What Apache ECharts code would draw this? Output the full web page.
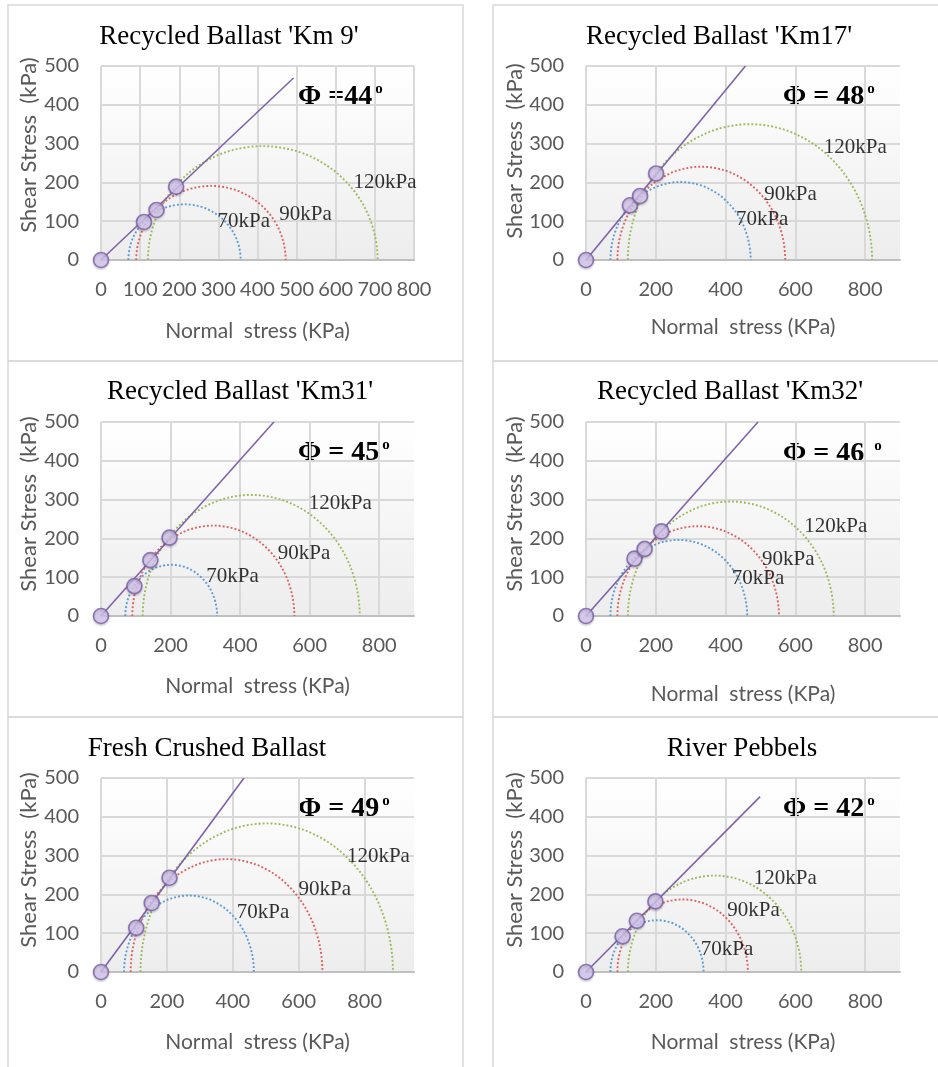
<!DOCTYPE html>
<html>
<head>
<meta charset="utf-8">
<script src="https://cdn.jsdelivr.net/npm/echarts@6/dist/echarts.min.js"></script>
<style>
  html, body { margin: 0; padding: 0; background: #fff; }
  #chart { width: 938px; height: 1067px; }
</style>
</head>
<body>
<div id="chart"></div>
<script>
// Mohr circles: confining pressure (sigma3) and major principal stress (sigma1), kPa
const confiningLabels = ['70kPa', '90kPa', '120kPa']
const sigma3 = [70, 90, 120]

// Recycled Ballast 'Km 9'
const km9Sigma1 = [357, 472, 707]
const km9NormalAtFailure = [0, 110, 142, 192]
const km9ShearAtFailure = [0, 98, 129, 189]
const km9EnvelopeEnd = [492, 469]

// Recycled Ballast 'Km17'
const km17Sigma1 = [472, 571, 820]
const km17NormalAtFailure = [0, 126, 155, 201]
const km17ShearAtFailure = [0, 141, 165, 223]
const km17EnvelopeEnd = [457, 500]

// Recycled Ballast 'Km31'
const km31Sigma1 = [334, 556, 744]
const km31NormalAtFailure = [0, 96, 142, 197]
const km31ShearAtFailure = [0, 77, 144, 202]
const km31EnvelopeEnd = [497, 500]

// Recycled Ballast 'Km32'
const km32Sigma1 = [462, 553, 710]
const km32NormalAtFailure = [0, 139, 168, 216]
const km32ShearAtFailure = [0, 148, 173, 218]
const km32EnvelopeEnd = [493, 500]

// Fresh Crushed Ballast
const freshSigma1 = [464, 672, 886]
const freshNormalAtFailure = [0, 107, 154, 208]
const freshShearAtFailure = [0, 114, 178, 243]
const freshEnvelopeEnd = [434, 500]

// River Pebbels
const riverSigma1 = [337, 464, 617]
const riverNormalAtFailure = [0, 105, 146, 199]
const riverShearAtFailure = [0, 92, 132, 182]
const riverEnvelopeEnd = [499, 452]

const titles = ["Recycled Ballast 'Km 9'", "Recycled Ballast 'Km17'", "Recycled Ballast 'Km31'",
  "Recycled Ballast 'Km32'", 'Fresh Crushed Ballast', 'River Pebbels']
const phiTexts = ['Φ =44', 'Φ = 48', 'Φ = 45', 'Φ = 46 ', 'Φ = 49', 'Φ = 42']
const xMaxes = [800, 900, 900, 900, 950, 900]
const xSteps = [100, 200, 200, 200, 200, 200]
const yMax = 500
const yStep = 100

const panels = [
  { sigma1: km9Sigma1, nx: km9NormalAtFailure, ty: km9ShearAtFailure, env: km9EnvelopeEnd },
  { sigma1: km17Sigma1, nx: km17NormalAtFailure, ty: km17ShearAtFailure, env: km17EnvelopeEnd },
  { sigma1: km31Sigma1, nx: km31NormalAtFailure, ty: km31ShearAtFailure, env: km31EnvelopeEnd },
  { sigma1: km32Sigma1, nx: km32NormalAtFailure, ty: km32ShearAtFailure, env: km32EnvelopeEnd },
  { sigma1: freshSigma1, nx: freshNormalAtFailure, ty: freshShearAtFailure, env: freshEnvelopeEnd },
  { sigma1: riverSigma1, nx: riverNormalAtFailure, ty: riverShearAtFailure, env: riverEnvelopeEnd }
]

// layout (pixels) and label anchors (data units)
const layout = [
  { left: 101, top: 66, width: 313, titleX: 229, titleY: 37, phiX: 298, phiY: 97, yNameX: 29, yNameY: 145, xNameGap: 61,
    labelAt: [[365, 99], [523, 117], [726, 199]] },
  { left: 586, top: 66, width: 314, titleX: 719, titleY: 37, phiX: 783, phiY: 97, yNameX: 515, yNameY: 151, xNameGap: 57,
    labelAt: [[505, 105], [586, 169], [772, 289]] },
  { left: 101, top: 422, width: 313, titleX: 240, titleY: 392, phiX: 298, phiY: 453, yNameX: 29, yNameY: 504, xNameGap: 60,
    labelAt: [[378, 101], [584, 160], [688, 291]] },
  { left: 586, top: 422, width: 314, titleX: 730, titleY: 392, phiX: 783, phiY: 454, yNameX: 515, yNameY: 504, xNameGap: 68,
    labelAt: [[493, 96], [580, 145], [716, 231]] },
  { left: 101, top: 778, width: 313, titleX: 207, titleY: 749, phiX: 298, phiY: 809, yNameX: 29, yNameY: 860, xNameGap: 60,
    labelAt: [[492, 153], [679, 213], [842, 298]] },
  { left: 586, top: 778, width: 314, titleX: 742, titleY: 749, phiX: 783, phiY: 809, yNameX: 515, yNameY: 860, xNameGap: 60,
    labelAt: [[404, 58], [480, 159], [571, 242]] }
]
const plotHeight = 194

const circleColors = ['#5b9bd5', '#e06060', '#9bbb59']
const sansFont = 'Lato'
const serifFont = 'Liberation Serif'
const tickColor = '#595959'
const gridColor = '#d9d9d9'

var myChart = echarts.init(document.getElementById('chart'))

const plotFill = new echarts.graphic.LinearGradient(0, 0, 0, 1, [
  { offset: 0, color: '#ffffff' },
  { offset: 1, color: '#ededed' }
])

let option = {
  animation: false,
  backgroundColor: '#fff',
  grid: [],
  xAxis: [],
  yAxis: [],
  series: [],
  graphic: []
}

// panel frames
const frameCols = [[8, 455], [493, 452]]
const frameRows = [[5, 356], [361, 356], [717, 356]]
frameRows.forEach(r => {
  frameCols.forEach(c => {
    option.graphic.push({
      type: 'rect', silent: true, z: -10,
      shape: { x: c[0], y: r[0], width: c[1], height: r[1] },
      style: { fill: 'none', stroke: '#d9d9d9', lineWidth: 1.5 }
    })
  })
})

panels.forEach((p, i) => {
  const L = layout[i]
  option.grid.push({
    left: L.left, top: L.top, width: L.width, height: plotHeight,
    show: true, borderWidth: 0, backgroundColor: plotFill
  })
  option.xAxis.push({
    gridIndex: i, type: 'value', min: 0, max: xMaxes[i], interval: xSteps[i],
    name: 'Normal  stress (KPa)', nameLocation: 'middle', nameGap: L.xNameGap,
    nameTextStyle: { fontFamily: sansFont, fontSize: 21, color: tickColor },
    axisLine: { show: true, lineStyle: { color: '#bfbfbf', width: 2 } },
    axisTick: { show: false },
    axisLabel: { margin: 20, fontFamily: sansFont, fontSize: 20, color: tickColor, showMaxLabel: xMaxes[i] % xSteps[i] === 0 },
    splitLine: { show: true, showMaxLine: xMaxes[i] % xSteps[i] === 0, lineStyle: { color: gridColor, width: 2 } }
  })
  option.yAxis.push({
    gridIndex: i, type: 'value', min: 0, max: yMax, interval: yStep,
    axisLine: { show: false },
    axisTick: { show: false },
    axisLabel: { margin: 22, fontFamily: sansFont, fontSize: 20, color: tickColor },
    splitLine: { show: true, lineStyle: { color: gridColor, width: 2 } }
  })

  // Mohr semicircles, drawn through the axis scales
  option.series.push({
    type: 'custom', xAxisIndex: i, yAxisIndex: i, silent: true, z: 2,
    data: sigma3.map((s, k) => [s, p.sigma1[k], k]),
    renderItem: function (params, api) {
      const a = api.coord([api.value(0), 0])
      const b = api.coord([api.value(1), 0])
      const rx = (b[0] - a[0]) / 2
      const ry = api.size([0, (api.value(1) - api.value(0)) / 2])[1]
      return {
        type: 'path',
        shape: { pathData: 'M ' + a[0] + ' ' + a[1] + ' A ' + rx + ' ' + ry + ' 0 0 1 ' + b[0] + ' ' + b[1] },
        style: { fill: 'none', stroke: circleColors[api.value(2)], lineWidth: 1.9, lineDash: [1.9, 2.1] }
      }
    }
  })
  // failure envelope
  option.series.push({
    type: 'line', xAxisIndex: i, yAxisIndex: i, silent: true, z: 3,
    data: [[0, 0], p.env], symbol: 'none',
    lineStyle: { color: '#7f62a9', width: 1.6 }
  })
  // failure points
  option.series.push({
    type: 'scatter', xAxisIndex: i, yAxisIndex: i, silent: true, z: 4, clip: false,
    data: p.nx.map((x, k) => [x, p.ty[k]]),
    symbolSize: 15,
    itemStyle: {
      color: '#d3c6ee', borderColor: '#7b5ea7', borderWidth: 1.6,
      shadowBlur: 2, shadowColor: 'rgba(0,0,0,0.2)', shadowOffsetY: 1.5
    }
  })
  // confining pressure labels
  option.series.push({
    type: 'scatter', xAxisIndex: i, yAxisIndex: i, silent: true, z: 5, clip: false,
    symbolSize: 0,
    data: confiningLabels.map((n, k) => ({ name: n, value: L.labelAt[k] })),
    label: { show: true, position: 'inside', formatter: '{b}', fontFamily: serifFont, fontSize: 21, color: '#000' }
  })

  option.graphic.push({
    type: 'text', silent: true, x: L.titleX, y: L.titleY,
    style: { text: titles[i], font: '27px "Liberation Serif"', fill: '#000', textAlign: 'center', textVerticalAlign: 'middle' }
  })
  option.graphic.push({
    type: 'text', silent: true, x: L.yNameX, y: L.yNameY, rotation: Math.PI / 2,
    style: { text: 'Shear Stress  (kPa)', font: '22px Lato', fill: tickColor, textAlign: 'center', textVerticalAlign: 'middle' }
  })
  option.graphic.push({
    type: 'text', silent: true, x: L.phiX, y: L.phiY,
    style: {
      text: '{a|' + phiTexts[i] + '}{b|o}', textAlign: 'left', textVerticalAlign: 'middle',
      rich: {
        a: { fontFamily: serifFont, fontWeight: 'bold', fontSize: 28, color: '#000', lineHeight: 30 },
        b: { fontFamily: serifFont, fontWeight: 'bold', fontSize: 15, color: '#000', verticalAlign: 'top', lineHeight: 14, padding: [0, 0, 0, 3] }
      }
    }
  })
})

myChart.setOption(option)
window.onresize = function () {
  myChart.resize()
}
</script>
</body>
</html>
